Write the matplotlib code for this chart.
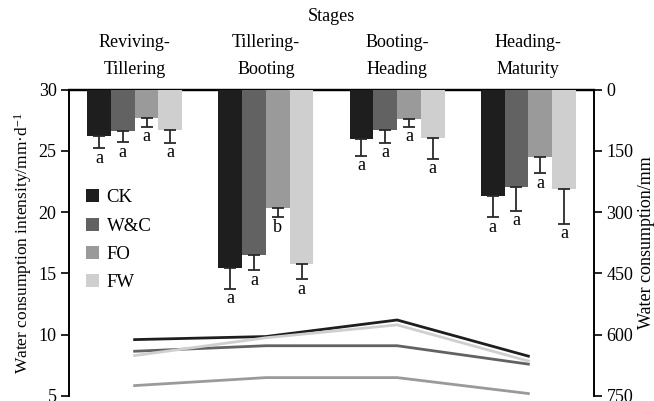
import numpy as np
import matplotlib

matplotlib.use("Agg")
import matplotlib.pyplot as plt

plt.rcParams["font.family"] = ["Liberation Serif", "DejaVu Serif"]
plt.rcParams["font.size"] = 13
plt.rcParams["mathtext.default"] = "regular"

# Growth stages and treatments
stages = ["Reviving-\nTillering", "Tillering-\nBooting", "Booting-\nHeading", "Heading-\nMaturity"]
treatments = ["CK", "W&C", "FO", "FW"]
colors = ["#1e1e1e", "#626262", "#9a9a9a", "#cfcfcf"]

# Water consumption per stage (mm) and its error
consumption = {
    "CK": [113, 437, 122, 260],
    "W&C": [102, 404, 99, 238],
    "FO": [69, 290, 72, 164],
    "FW": [98, 427, 118, 243],
}
consumption_err = {
    "CK": [31, 51, 40, 53],
    "W&C": [27, 38, 32, 59],
    "FO": [22, 23, 20, 41],
    "FW": [33, 37, 52, 86],
}
letters = {
    "CK": ["a", "a", "a", "a"],
    "W&C": ["a", "a", "a", "a"],
    "FO": ["a", "b", "a", "a"],
    "FW": ["a", "a", "a", "a"],
}

# Water consumption intensity (mm/d)
intensity = {
    "CK": [9.6, 9.85, 11.2, 8.25],
    "W&C": [8.65, 9.1, 9.1, 7.6],
    "FO": [5.85, 6.5, 6.5, 5.2],
    "FW": [8.3, 9.75, 10.8, 7.85],
}

x = np.arange(len(stages))
width = 0.181

fig = plt.figure(figsize=(6.54, 4.01), dpi=100)
ax = fig.add_axes([69 / 654, 1 - 396 / 401, 525 / 654, (396 - 89.5) / 401])
ax2 = ax.twinx()

# intensity lines on the left axis
for name, col in zip(treatments, colors):
    ax.plot(x, intensity[name], color=col, lw=2.0, zorder=2)

# consumption bars hang from the top on the inverted right axis
for i, (name, col) in enumerate(zip(treatments, colors)):
    pos = x + (i - 1.5) * width
    vals = np.array(consumption[name])
    errs = np.array(consumption_err[name])
    ax2.bar(pos, vals, width=width, color=col, label=name, zorder=3)
    ax2.errorbar(pos, vals, yerr=[np.zeros_like(errs), errs], fmt="none",
                 ecolor="#2a2a2a", elinewidth=1.3, capsize=4, capthick=1.3, zorder=4)
    for p, v, e, lab in zip(pos, vals, errs, letters[name]):
        ax2.annotate(lab, (p, v + e), xytext=(0, -1), textcoords="offset points",
                     ha="center", va="top", fontsize=13)

ax.set_xlim(-0.5, 3.5)
ax.set_ylim(5, 30)
ax.set_yticks([5, 10, 15, 20, 25, 30])
ax2.set_ylim(750, 0)
ax2.set_yticks([0, 150, 300, 450, 600, 750])

ax.xaxis.tick_top()
ax.xaxis.set_label_position("top")
ax.set_xticks(x)
ax.set_xticklabels(stages, fontsize=13, linespacing=1.8)
ax.tick_params(axis="x", length=0, pad=8)
ax.set_xlabel("Stages", fontsize=13, labelpad=9)

ax.tick_params(axis="y", direction="out", length=6, width=1.2, labelsize=13, pad=3)
ax2.tick_params(axis="y", direction="out", length=6, width=1.2, labelsize=13, pad=3)

ax.set_ylabel("Water consumption intensity/mm·d$^{-1}$", fontsize=12.5, labelpad=3)
ax2.set_ylabel("Water consumption/mm", fontsize=13, labelpad=3)

for a in (ax, ax2):
    a.spines["bottom"].set_visible(False)
    a.spines["top"].set_linewidth(1.6)
    a.spines["left"].set_linewidth(1.2)
    a.spines["right"].set_linewidth(1.2)

ax2.legend(loc="upper left", bbox_to_anchor=(0.0, 0.73), frameon=False,
           handlelength=0.7, handleheight=0.7, handletextpad=0.4,
           labelspacing=0.6, fontsize=13.5)

fig.savefig("out.png", dpi=100)
